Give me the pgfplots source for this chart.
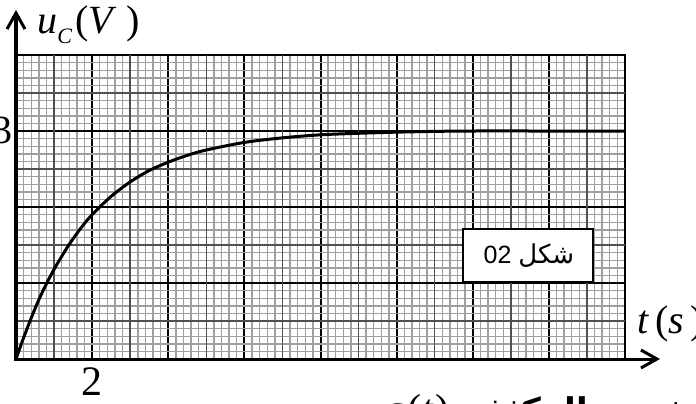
\documentclass[border=0pt]{standalone}
\usepackage{pgfplots}
\pgfplotsset{compat=1.18}
\usepackage{fontspec}
\setmainfont{Liberation Serif}
\newfontfamily\arabicfont[Script=Arabic]{DejaVu Sans}
\newfontfamily\sansfont{Liberation Sans}
\usetikzlibrary{arrows.meta}
\TeXXeTstate=1
\definecolor{minorgrid}{HTML}{A0A0A0}
\definecolor{midgrid}{HTML}{505050}
\begin{document}
\begin{tikzpicture}
\useasboundingbox (-8pt,-22pt) rectangle (340pt,179.5pt);
\clip (-8pt,-22pt) rectangle (340pt,179.5pt);
\begin{axis}[
  at={(0,0)}, anchor=south west,
  scale only axis, width=304.5pt, height=152pt,
  xmin=0, xmax=16, ymin=0, ymax=4,
  xtick={0,2,...,16}, ytick={0,1,...,4},
  minor xtick={0,0.2,...,16}, minor ytick={0,0.1,...,4},
  extra x ticks={1,3,...,15}, extra y ticks={0.5,1.5,2.5,3.5},
  extra x tick labels={}, extra y tick labels={},
  extra tick style={grid=major, major grid style={color=midgrid, line width=0.8pt}},
  xticklabels={}, yticklabels={},
  major tick length=0pt, minor tick length=0pt,
  grid=both,
  minor grid style={color=minorgrid, line width=0.7pt},
  major grid style={color=black, line width=1pt},
  axis line style={black, line width=1pt},
  clip=false,
]
\addplot[black, line width=1.5pt, smooth, tension=0.5] coordinates {
(0,0) (0.2,0.28) (0.4,0.54) (0.6,0.78) (0.8,0.99) (1.0,1.18) (1.2,1.35)
(1.4,1.51) (1.7,1.72) (2.0,1.90) (2.5,2.14) (3.0,2.33) (3.5,2.48)
(4.0,2.59) (4.5,2.68) (5.0,2.75) (6.0,2.85) (7.0,2.91) (8.0,2.95)
(9.0,2.97) (10.0,2.985) (11,2.995) (12,3.0) (14,3.0) (16,3.0)
};
\end{axis}
% axes with arrows
\draw[line width=1.8pt, -{Straight Barb[length=8pt,width=9pt,line width=1.5pt]}] (0,-0.5pt) -- (0,174.5pt);
\draw[line width=1.5pt, -{Straight Barb[length=8pt,width=9pt,line width=1.5pt]}] (-0.9pt,0) -- (322pt,0);
% labels
\node[anchor=base west, inner sep=0pt] at (10.5pt,163pt)
  {\fontsize{20pt}{20pt}\selectfont\textit{u}\raisebox{-5pt}{\fontsize{11pt}{11pt}\selectfont\textit{C}}\kern1.5pt(\textit{V}\kern5pt)};
\node[anchor=base west, inner sep=0pt] at (310.5pt,13pt)
  {\fontsize{20pt}{20pt}\selectfont\textit{t}\kern3pt(\textit{s}\kern3pt)};
\node[anchor=base, inner sep=0pt] at (38pt,-18pt) {\fontsize{21pt}{21pt}\selectfont 2};
\node[anchor=base east, inner sep=0pt] at (-1.8pt,108pt) {\fontsize{20pt}{20pt}\selectfont 3};
% figure box
\draw[line width=0.8pt, fill=white] (223.5pt,38.5pt) rectangle (288.5pt,65pt);
\node[inner sep=0pt] at (256.5pt,51.7pt)
  {\sansfont\fontsize{12.5pt}{12pt}\selectfont 02\ {\arabicfont\fontsize{13pt}{12pt}\selectfont\beginR شكل\endR}};
% bottom text (clipped)
\node[anchor=base west, inner sep=0pt] at (184pt,-32pt)
  {\fontsize{21pt}{21pt}\selectfont\textit{q}\kern1pt(\textit{t}\kern1pt)};
\node[anchor=base west, inner sep=0pt] at (223pt,-31.5pt)
  {\arabicfont\bfseries\fontsize{17pt}{18pt}\selectfont\beginR بدلالة شحنة المكثفة\endR};
\end{tikzpicture}
\end{document}
